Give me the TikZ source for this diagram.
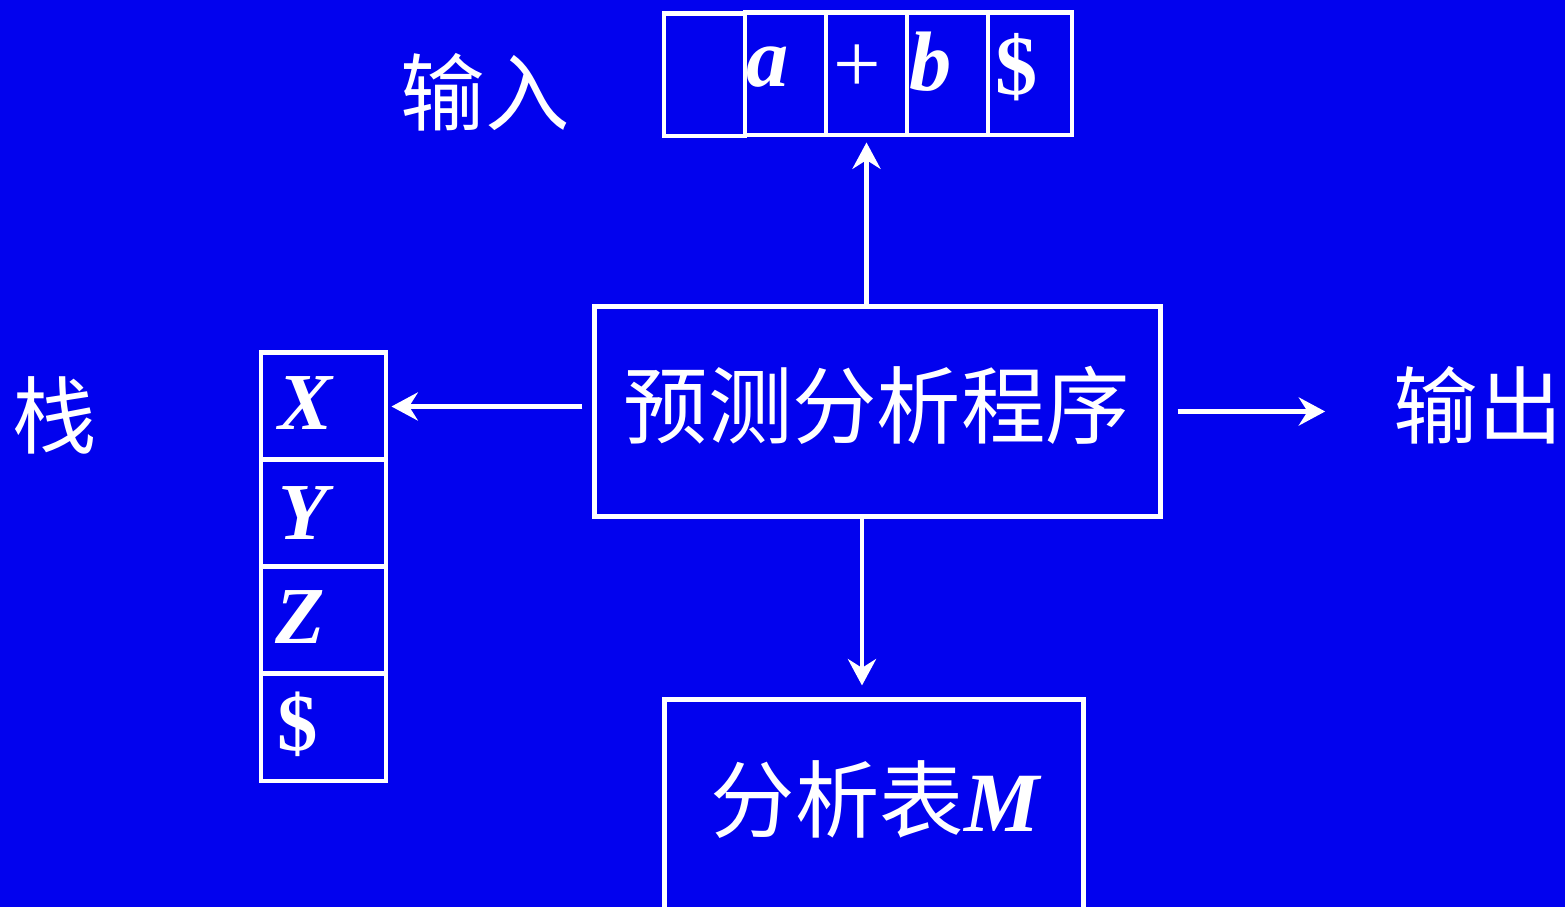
\documentclass[tikz,border=0pt]{standalone}
\usepackage{fontspec}
\setmainfont{Liberation Serif}
\newfontfamily\cjk{Noto Sans CJK SC}
\usetikzlibrary{arrows.meta}
\definecolor{slidebg}{RGB}{2,2,238}

\begin{document}
\begin{tikzpicture}[x=0.01cm,y=-0.01cm,
        incell/.style={draw=white, line width=1.4pt, minimum width=0.81cm, minimum height=1.22cm, inner sep=0pt},
        stkcell/.style={draw=white, line width=1.4pt, minimum width=1.25cm, minimum height=1.07cm, inner sep=0pt},
        bigbox/.style={draw=white, line width=1.4pt, inner sep=0pt},
        zh/.style={text=white, font=\cjk\fontsize{24}{28}\selectfont},
        sym/.style={text=white, inner sep=0pt, font=\fontsize{24}{28}\selectfont\bfseries\itshape},
        arr/.style={white, line width=1.25pt, -{Stealth[length=7.5pt,width=8pt,inset=2.5pt]}}]
        \useasboundingbox (0,0) rectangle (1565,907);
        \fill[slidebg] (0,0) rectangle (1565,907);
        % input tape
        \node[incell] (in0) at (704.5,75) {};
        \node[incell] (in1) at (785.5,74) {};
        \node[incell] (in2) at (866.5,74) {};
        \node[incell] (in3) at (947.5,74) {};
        \node[incell, minimum width=0.84cm] (in4) at (1030,74) {};
        \node[sym] (ta) at (768,67) {a};
        \node[sym, font=\fontsize{24}{28}\selectfont] (tplus) at (857,69) {+};
        \node[sym] (tb) at (931,62) {b};
        \node[sym, font=\fontsize{24}{28}\selectfont\bfseries] (tend) at (1017,67) {\$};
        \node[zh] (inlbl) at (485,92) {输入};
        % stack
        \node[stkcell] (sX) at (323.5,406.5) {};
        \node[stkcell] (sY) at (323.5,513.5) {};
        \node[stkcell] (sZ) at (323.5,620.5) {};
        \node[stkcell] (sEnd) at (323.5,727.5) {};
        \node[sym, font=\fontsize{23}{27}\selectfont\bfseries\itshape] (tX) at (305,403) {X};
        \node[sym, font=\fontsize{23}{27}\selectfont\bfseries\itshape] (tY) at (303,513) {Y};
        \node[sym, font=\fontsize{23}{27}\selectfont\bfseries\itshape] (tZ) at (300,617) {Z};
        \node[sym, font=\fontsize{23}{27}\selectfont\bfseries] (tS) at (298,724) {\$};
        \node[zh] (stklbl) at (55,415) {栈};
        % program and table
        \node[bigbox, minimum width=5.65cm, minimum height=2.09cm] (prog) at (877.5,411.5) {};
        \node[zh] (progtxt) at (877,405) {预测分析程序};
        \node[bigbox, minimum width=4.18cm, minimum height=2.6cm] (tbl) at (874,830) {};
        \node[zh] (tbltxt) at (875,800) {分析表{\rmfamily\bfseries\itshape M}};
        \node[zh] (outlbl) at (1478,405) {输出};
        % arrows
        \draw[arr, shorten <=0.1cm, shorten >=0.03cm] (prog.west |- sX.east) -- (sX.east);
        \draw[arr, shorten >=0.05cm] (prog.north -| in2.south) -- (in2.south);
        \draw[arr, shorten <=0.15cm, shorten >=0.56cm] (prog.east) -- (prog.east -| outlbl.west);
        \draw[arr, shorten >=0.12cm] ([xshift=-0.155cm]prog.south) -- ([xshift=-0.155cm]prog.south |- tbl.north);
\end{tikzpicture}
\end{document}
